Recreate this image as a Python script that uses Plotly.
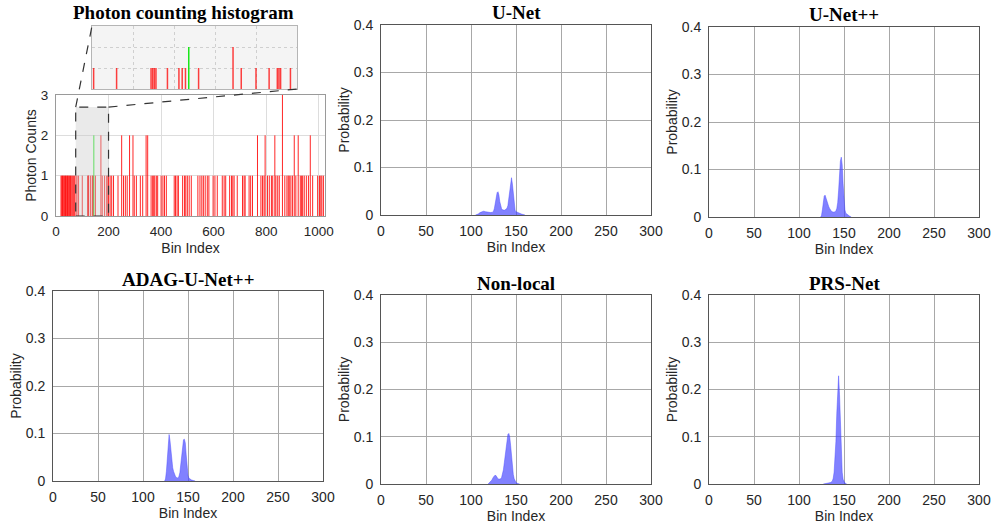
import plotly.graph_objects as go

W, H = 992, 527

# ---------------- data ----------------
# Photon counting histogram (bin index -> photon counts), signal bin in green
hist_bins = [19, 22, 25, 27, 30, 33, 36, 38, 41, 44, 46, 49, 52, 55, 58, 62, 66, 70,
             76, 80, 86, 100, 121, 122, 123, 124, 131, 138, 140, 142, 150, 171, 176,
             185, 193, 198, 199, 200,
             206, 212, 219, 236, 250, 257, 264, 271, 280, 293, 298, 306, 321, 330,
             343, 349, 362, 368, 372, 376, 382, 387, 400, 407, 413, 420, 450, 455,
             461, 466, 482, 489, 494, 500, 507, 515, 540, 548, 555, 561, 568, 576,
             582, 598, 605, 614, 633, 640, 646, 661, 668, 673, 678, 690, 710, 716,
             720, 735, 741, 748, 767, 780, 786, 792, 796, 805, 812, 820, 825, 833,
             837, 844, 850, 862, 871, 879, 884, 888, 894, 900, 907, 913, 922, 930,
             935, 939, 945, 953, 961, 968, 977, 996, 1003, 1008, 1012, 1018]
hist_counts = [1, 1, 1, 1, 1, 1, 1, 1, 1, 1, 1, 1, 1, 1, 1, 1, 1, 1,
               1, 1, 1, 1, 1, 1, 1, 1, 1, 1, 1, 1, 1, 2, 1,
               1, 1, 1, 1, 1,
               1, 1, 1, 1, 2, 1, 1, 1, 2, 2, 1, 1, 1, 1,
               2, 2, 1, 1, 1, 1, 1, 1, 1, 1, 1, 1, 1, 1,
               1, 1, 1, 1, 1, 1, 1, 1, 1, 1, 1, 1, 1, 1,
               1, 1, 1, 1, 1, 1, 1, 1, 1, 1, 1, 1, 1, 1,
               1, 1, 1, 1, 2, 1, 1, 1, 2, 1, 1, 1, 1, 2,
               1, 1, 1, 3, 1, 1, 1, 1, 1, 1, 2, 1, 2, 1,
               1, 1, 1, 1, 1, 2, 1, 1, 1, 1, 1, 1]
signal_bins = [144]
signal_counts = [2]

# zoom window shown in the inset
zoom_x = [75, 200]
zoom_top = 2.7
inset_range = [85, 210]

unet_bins = [105, 108, 110, 112, 114, 116, 118, 120, 122, 124, 125, 126, 127, 128, 129,
             130, 131, 132, 133, 134, 135, 136, 137, 138, 139, 140, 141, 142, 143, 144,
             145, 146, 147, 148, 149, 150, 152, 154, 156, 158, 160]
unet_prob = [0, 0.002, 0.005, 0.007, 0.008, 0.007, 0.006, 0.006, 0.005, 0.006, 0.008,
             0.014, 0.025, 0.038, 0.047, 0.049, 0.042, 0.028, 0.018, 0.013, 0.011, 0.010,
             0.010, 0.011, 0.012, 0.014, 0.020, 0.035, 0.055, 0.072, 0.0785, 0.065, 0.040,
             0.020, 0.010, 0.007, 0.005, 0.004, 0.002, 0.001, 0]

unetpp_bins = [124, 125, 126, 127, 128, 129, 130, 131, 132, 133, 134, 135, 136, 137, 138,
               139, 140, 141, 142, 143, 144, 145, 146, 147, 148, 149, 150, 151, 152, 154,
               156, 158]
unetpp_prob = [0, 0.003, 0.015, 0.035, 0.044, 0.046, 0.040, 0.030, 0.025, 0.022, 0.018,
               0.014, 0.012, 0.011, 0.010, 0.010, 0.011, 0.013, 0.018, 0.030, 0.055, 0.090,
               0.118, 0.126, 0.110, 0.070, 0.035, 0.015, 0.008, 0.004, 0.002, 0]

adag_bins = [124, 125, 126, 127, 128, 129, 130, 131, 132, 133, 134, 135, 136, 137, 138,
             139, 140, 141, 142, 143, 144, 145, 146, 147, 148, 149, 150, 151, 152, 154,
             156, 158]
adag_prob = [0, 0.004, 0.020, 0.050, 0.082, 0.098, 0.085, 0.060, 0.040, 0.028, 0.020,
             0.014, 0.010, 0.008, 0.006, 0.007, 0.010, 0.018, 0.035, 0.060, 0.080, 0.087,
             0.088, 0.080, 0.055, 0.028, 0.012, 0.006, 0.004, 0.002, 0.001, 0]

nonlocal_bins = [119, 121, 123, 125, 126, 127, 128, 129, 130, 131, 132, 133, 134, 135,
                 136, 137, 138, 139, 140, 141, 142, 143, 144, 145, 146, 147, 148, 149,
                 150, 152, 154]
nonlocal_prob = [0, 0.003, 0.008, 0.015, 0.018, 0.019, 0.017, 0.013, 0.011, 0.010, 0.010,
                 0.011, 0.014, 0.020, 0.030, 0.045, 0.062, 0.080, 0.096, 0.105, 0.107,
                 0.100, 0.082, 0.058, 0.035, 0.020, 0.011, 0.006, 0.003, 0.001, 0]

prs_bins = [127, 130, 133, 135, 137, 138, 139, 140, 141, 142, 143, 144, 145, 146, 147,
            148, 149, 150, 151, 153]
prs_prob = [0, 0.001, 0.002, 0.003, 0.006, 0.012, 0.025, 0.050, 0.090, 0.150, 0.205,
            0.229, 0.190, 0.120, 0.060, 0.025, 0.010, 0.004, 0.002, 0]

titles = ["Photon counting histogram", "U-Net", "U-Net++", "ADAG-U-Net++", "Non-local", "PRS-Net"]

# ---------------- layout helpers ----------------
def dx(a, b):
    return [a / W, b / W]

def dy(top, bottom):
    return [1 - bottom / H, 1 - top / H]

SANS = "Arial, 'Liberation Sans', sans-serif"
SERIF = "'Times New Roman', 'Liberation Serif', serif"
TXT = "#262626"

# panel boxes in pixels: (left, right, top, bottom)
P_HIST = (56, 325, 95, 216)
P_INSET = (92, 297, 26, 89)
P_PROB = [(381, 651, 25, 215), (709, 979, 27, 217),
          (53, 323, 291, 481), (381, 651, 295, 484), (709, 979, 295, 484)]

def stems(bins, counts):
    xs, ys = [], []
    for b, c in zip(bins, counts):
        xs += [b, b, None]
        ys += [0, c, None]
    return xs, ys

fig = go.Figure()

# main histogram
hx, hy = stems(hist_bins, hist_counts)
sx, sy = stems(signal_bins, signal_counts)
fig.add_trace(go.Scatter(x=hx, y=hy, mode="lines", line=dict(color="rgba(255,0,0,0.85)", width=1),
                         xaxis="x", yaxis="y", hoverinfo="skip"))
fig.add_trace(go.Scatter(x=sx, y=sy, mode="lines", line=dict(color="rgba(0,230,0,0.85)", width=1),
                         xaxis="x", yaxis="y", hoverinfo="skip"))
# inset
fig.add_trace(go.Scatter(x=hx, y=hy, mode="lines", line=dict(color="rgba(255,0,0,0.75)", width=1.5),
                         xaxis="x2", yaxis="y2", hoverinfo="skip"))
fig.add_trace(go.Scatter(x=sx, y=sy, mode="lines", line=dict(color="rgba(0,230,0,0.9)", width=1.5),
                         xaxis="x2", yaxis="y2", hoverinfo="skip"))

series = [(unet_bins, unet_prob), (unetpp_bins, unetpp_prob), (adag_bins, adag_prob),
          (nonlocal_bins, nonlocal_prob), (prs_bins, prs_prob)]
for i, (b, p) in enumerate(series):
    n = i + 3
    fig.add_trace(go.Scatter(x=b, y=p, mode="lines", fill="tozeroy",
                             line=dict(color="rgba(70,70,255,0.75)", width=0.6),
                             fillcolor="rgba(70,70,255,0.68)",
                             xaxis=f"x{n}", yaxis=f"y{n}"))

layout = dict(width=W, height=H, margin=dict(l=0, r=0, t=0, b=0, autoexpand=False), showlegend=False,
              plot_bgcolor="white", paper_bgcolor="white",
              font=dict(family=SANS, size=14, color=TXT))

# histogram axes
layout["xaxis"] = dict(domain=dx(P_HIST[0], P_HIST[1]), range=[0, 1024], tickvals=[0, 200, 400, 600, 800, 1000],
                       showgrid=True, gridcolor="#dddddd", zeroline=False, showline=True, mirror=True,
                       linecolor="#9a9a9a", linewidth=1, anchor="y", ticks="", ticklabelstandoff=3,
                       automargin=False,
                       title=dict(text="Bin Index", standoff=4, font=dict(size=14)),
                       tickfont=dict(size=13.5, color=TXT))
layout["yaxis"] = dict(domain=dy(P_HIST[2], P_HIST[3]), range=[0, 3], dtick=1,
                       showgrid=True, gridcolor="#dddddd", zeroline=False, showline=True, mirror=True,
                       linecolor="#9a9a9a", linewidth=1, anchor="x", ticks="", ticklabelstandoff=4,
                       automargin=False,
                       title=dict(text="Photon Counts", standoff=0, font=dict(size=14)),
                       tickfont=dict(size=13.5, color=TXT))
# inset axes
layout["xaxis2"] = dict(domain=dx(P_INSET[0], P_INSET[1]), range=inset_range, tickvals=[110, 135, 160, 185],
                        showticklabels=False, showgrid=True, gridcolor="#cfcfcf", griddash="dot",
                        automargin=False,
                        zeroline=False, showline=True, mirror=True, linecolor="#b5b5b5", anchor="y2", ticks="")
layout["yaxis2"] = dict(domain=dy(P_INSET[2], P_INSET[3]), range=[0, 3], dtick=1,
                        showticklabels=False, showgrid=True, gridcolor="#cfcfcf", griddash="dot",
                        automargin=False,
                        zeroline=False, showline=True, mirror=True, linecolor="#b5b5b5", anchor="x2", ticks="")

for i, (l, r, t, b) in enumerate(P_PROB):
    n = i + 3
    layout[f"xaxis{n}"] = dict(domain=dx(l, r), range=[0, 300], dtick=50, anchor=f"y{n}",
                               showgrid=True, gridcolor="#a8a8a8", zeroline=False, showline=True,
                               mirror=True, linecolor="#555555", linewidth=1, ticks="",
                               ticklabelstandoff=3, automargin=False,
                               title=dict(text="Bin Index", standoff=4, font=dict(size=14)),
                               tickfont=dict(size=14, color=TXT))
    layout[f"yaxis{n}"] = dict(domain=dy(t, b), range=[0, 0.4], dtick=0.1, anchor=f"x{n}",
                               showgrid=True, gridcolor="#a8a8a8", zeroline=False, showline=True,
                               mirror=True, linecolor="#555555", linewidth=1, ticks="",
                               ticklabelstandoff=4, automargin=False,
                               title=dict(text="Probability", standoff=0, font=dict(size=14)),
                               tickfont=dict(size=14, color=TXT))

fig.update_layout(**layout)

# titles
title_pos = [(183, 13)] + [((l + r) / 2, t - 12) for (l, r, t, b) in P_PROB]
for txt, (x, y) in zip(titles, title_pos):
    fig.add_annotation(text=f"<b>{txt}</b>", x=x / W, y=1 - y / H, xref="paper", yref="paper",
                       showarrow=False, xanchor="center", yanchor="middle",
                       font=dict(family=SERIF, size=19, color="black"))

# inset background and zoom rectangle
fig.add_shape(type="rect", xref="x2 domain", yref="y2 domain", x0=0, x1=1, y0=0, y1=1,
              fillcolor="#f4f4f4", line=dict(width=0), layer="below")
fig.add_shape(type="rect", xref="x", yref="y", x0=zoom_x[0], x1=zoom_x[1], y0=0, y1=zoom_top,
              fillcolor="rgba(200,200,200,0.38)", line=dict(color="#333333", width=1.2, dash="dash"),
              layer="above")

# connector lines from zoom rectangle to inset (paper coords derived from axes)
def data_to_paper_x(v):
    d = layout["xaxis"]["domain"]
    return d[0] + (v - 0) / 1024 * (d[1] - d[0])

def data_to_paper_y(v):
    d = layout["yaxis"]["domain"]
    return d[0] + v / 3 * (d[1] - d[0])

ix = layout["xaxis2"]["domain"]
iy = layout["yaxis2"]["domain"]
fig.add_shape(type="line", xref="paper", yref="paper",
              x0=data_to_paper_x(zoom_x[0]), y0=data_to_paper_y(zoom_top), x1=ix[0], y1=iy[1],
              line=dict(color="#333333", width=1.2, dash="dash"))
fig.add_shape(type="line", xref="paper", yref="paper",
              x0=data_to_paper_x(zoom_x[1]), y0=data_to_paper_y(zoom_top), x1=ix[1], y1=iy[0],
              line=dict(color="#333333", width=1.2, dash="dash"))

fig.write_html("out.html", config={"displayModeBar": False},
               post_script="document.body.style.margin='0px';document.body.style.overflow='hidden';")
